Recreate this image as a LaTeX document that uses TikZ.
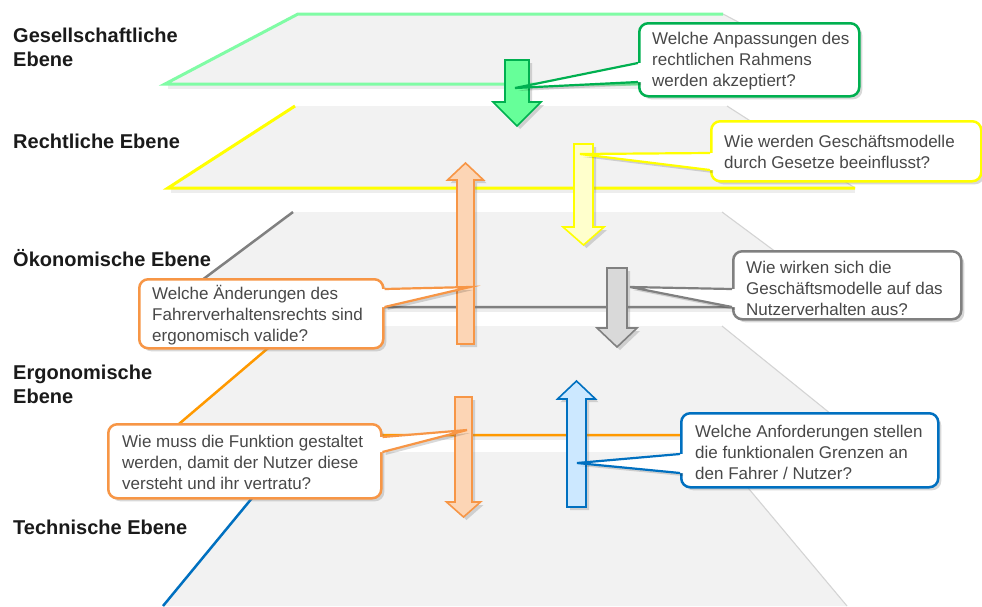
\documentclass[tikz,border=0pt]{standalone}
\usepackage{fontspec}
\setmainfont{Liberation Sans}
\usetikzlibrary{shadows,calc}
\definecolor{planegray}{RGB}{242,242,242}
\definecolor{edgegray}{RGB}{212,212,212}
\definecolor{glline}{RGB}{128,252,165}
\definecolor{gfill}{RGB}{102,255,153}
\definecolor{gdark}{RGB}{0,176,80}
\definecolor{yline}{RGB}{255,255,0}
\definecolor{yfill}{RGB}{255,255,204}
\definecolor{grline}{RGB}{128,128,128}
\definecolor{grfill}{RGB}{217,217,217}
\definecolor{oline}{RGB}{255,153,0}
\definecolor{ofill}{RGB}{252,213,181}
\definecolor{odark}{RGB}{247,150,70}
\definecolor{bline}{RGB}{0,112,192}
\definecolor{bfill}{RGB}{204,232,255}
\definecolor{textgray}{RGB}{72,72,72}
\definecolor{labelblack}{RGB}{26,26,26}
\newcommand\vArrow[7]{%
  \filldraw[#1] (#2-#6,#3) -- (#2+#6,#3) -- (#2+#6,#4) -- (#2+#7,#4) -- (#2,#5) -- (#2-#7,#4) -- (#2-#6,#4) -- cycle;}
\newcommand\callwedge[5]{%
  \fill[black,opacity=0.15] ($#2+(3,3)$) -- ($#3+(3,3)$) -- ($#4+(3,3)$) -- cycle;
  \fill[white] ($#2+(#5,0)$) -- #2 -- #3 -- #4 -- ($#4+(#5,0)$) -- cycle;
  \draw[#1, line width=2.2, line join=miter] #2 -- #3 -- #4;}
\begin{document}
\begin{tikzpicture}[x=1pt,y=-1pt,
  plane/.style={fill=planegray},
  edgeline/.style={draw=edgegray, line width=1.1},
  shadowline/.style={draw=black, opacity=0.07, line width=4},
  arrowbox/.style={line width=1.6, line join=miter, drop shadow={shadow xshift=3pt, shadow yshift=-3pt, opacity=0.3}},
  cbox/.style={draw=#1, fill=white, line width=2.5, rounded corners=9, inner sep=0, anchor=north west,
    drop shadow={shadow xshift=3pt, shadow yshift=-3pt, opacity=0.3}},
  ctext/.style={text=textgray, font=\fontsize{17}{21}\selectfont, align=left, inner sep=0, anchor=west},
  lab/.style={text=labelblack, font=\bfseries\fontsize{20}{24}\selectfont, align=left, inner sep=0, anchor=base west}
]
\useasboundingbox (0,0) rectangle (982,606);
\fill[white] (0,0) rectangle (982,606);

% ---------- planes ----------
% layer 1 (green)
\fill[plane] (298,14) -- (723,14) -- (856,84) -- (165,84) -- cycle;
\draw[shadowline] (168,87) -- (856,87);
\draw[edgeline] (723,14) -- (856,84);
\draw[glline, line width=3, line join=miter] (723,14) -- (298,14) -- (165,84) -- (856,84);
% layer 2 (yellow)
\fill[plane] (295,106) -- (727,106) -- (855,188) -- (168,188) -- cycle;
\draw[shadowline] (171,191) -- (855,191);
\draw[edgeline] (727,106) -- (855,188);
\draw[yline, line width=3, line join=miter] (295,106) -- (168,188) -- (855,188);
% layer 3 (gray)
\fill[plane] (293,212) -- (722,212) -- (850,307) -- (166,307) -- cycle;
\draw[shadowline] (169,310) -- (850,310);
\draw[edgeline] (722,212) -- (850,307);
\draw[grline, line width=2.5, line join=miter] (293,212) -- (166,307) -- (850,307);
% layer 4 (orange)
\fill[plane] (294,326) -- (722,326) -- (857,435) -- (166,435) -- cycle;
\draw[shadowline] (169,438) -- (857,438);
\draw[edgeline] (722,326) -- (857,435);
\draw[oline, line width=2.5, line join=miter] (294,326) -- (166,435) -- (857,435);
% layer 5 (blue)
\fill[plane] (290,452) -- (718,452) -- (847,606) -- (163,606) -- cycle;
\draw[edgeline] (718,452) -- (847,606);
\draw[bline, line width=2.5] (290,452) -- (163,606);

% ---------- labels ----------
\node[lab] (l1) at (13,66) {Gesellschaftliche\\Ebene};
\node[lab] (l2) at (13,148) {Rechtliche Ebene};
\node[lab] (l3) at (13,266) {Ökonomische Ebene};
\node[lab] (l4) at (13,403) {Ergonomische\\Ebene};
\node[lab] (l5) at (13,534) {Technische Ebene};

% ---------- arrows ----------
\vArrow{arrowbox, fill=gfill, draw=gdark}{517}{60}{102}{126}{12}{24}
\vArrow{arrowbox, fill=yfill, draw=yline}{583.5}{144}{227}{245}{9.5}{20.5}
\vArrow{arrowbox, fill=ofill, draw=odark}{465.5}{344}{180}{163}{8.5}{18}
\vArrow{arrowbox, fill=grfill, draw=grline}{617}{268}{328}{347}{10}{20}
\vArrow{arrowbox, fill=ofill, draw=odark}{463.5}{397}{502}{517}{8.5}{17}
\vArrow{arrowbox, fill=bfill, draw=bline}{576.5}{507}{399}{381}{9.5}{19}

\coordinate (tip1) at (515,88);
\coordinate (tip2) at (580,154);
\coordinate (tip3) at (630,287);
\coordinate (tip4) at (470,287);
\coordinate (tip5) at (467,430);
\coordinate (tip6) at (577,463);

% ---------- callouts ----------
\node[cbox=gdark, minimum width=220, minimum height=73] (c1) at (638,22) {};
\callwedge{gdark}{($(c1.north west)+(0,41)$)}{(tip1)}{($(c1.north west)+(0,60)$)}{4}
\node[ctext] (c1t) at ($(c1.west)+(14,1)$) {Welche Anpassungen des\\rechtlichen Rahmens\\werden akzeptiert?};

\node[cbox=yline, minimum width=270, minimum height=60] (c2) at (710,120) {};
\callwedge{yline}{($(c2.north west)+(0,33)$)}{(tip2)}{($(c2.north west)+(0,50)$)}{4}
\node[ctext] (c2t) at ($(c2.west)+(14,1)$) {Wie werden Geschäftsmodelle\\durch Gesetze beeinflusst?};

\node[cbox=grline, minimum width=228, minimum height=68] (c3) at (732,250) {};
\callwedge{grline}{($(c3.north west)+(0,39)$)}{(tip3)}{($(c3.north west)+(0,57)$)}{4}
\node[ctext] (c3t) at ($(c3.west)+(14,3)$) {Wie wirken sich die\\Geschäftsmodelle auf das\\Nutzerverhalten aus?};

\node[cbox=odark, minimum width=244, minimum height=69] (c4) at (138,278) {};
\callwedge{odark}{($(c4.north east)+(0,11)$)}{(tip4)}{($(c4.north east)+(0,29)$)}{-4}
\node[ctext] (c4t) at ($(c4.west)+(14,1)$) {Welche Änderungen des\\Fahrerverhaltensrechts sind\\ergonomisch valide?};

\node[cbox=odark, minimum width=273, minimum height=74] (c5) at (107,423) {};
\callwedge{odark}{($(c5.north east)+(0,14)$)}{(tip5)}{($(c5.north east)+(0,29)$)}{-4}
\node[ctext] (c5t) at ($(c5.west)+(15,1)$) {Wie muss die Funktion gestaltet\\werden, damit der Nutzer diese\\versteht und ihr vertratu?};

\node[cbox=bline, minimum width=257, minimum height=74] (c6) at (680,412) {};
\callwedge{bline}{($(c6.north west)+(0,42)$)}{(tip6)}{($(c6.north west)+(0,61)$)}{4}
\node[ctext] (c6t) at ($(c6.west)+(15,2)$) {Welche Anforderungen stellen\\die funktionalen Grenzen an\\den Fahrer / Nutzer?};
\end{tikzpicture}
\end{document}
